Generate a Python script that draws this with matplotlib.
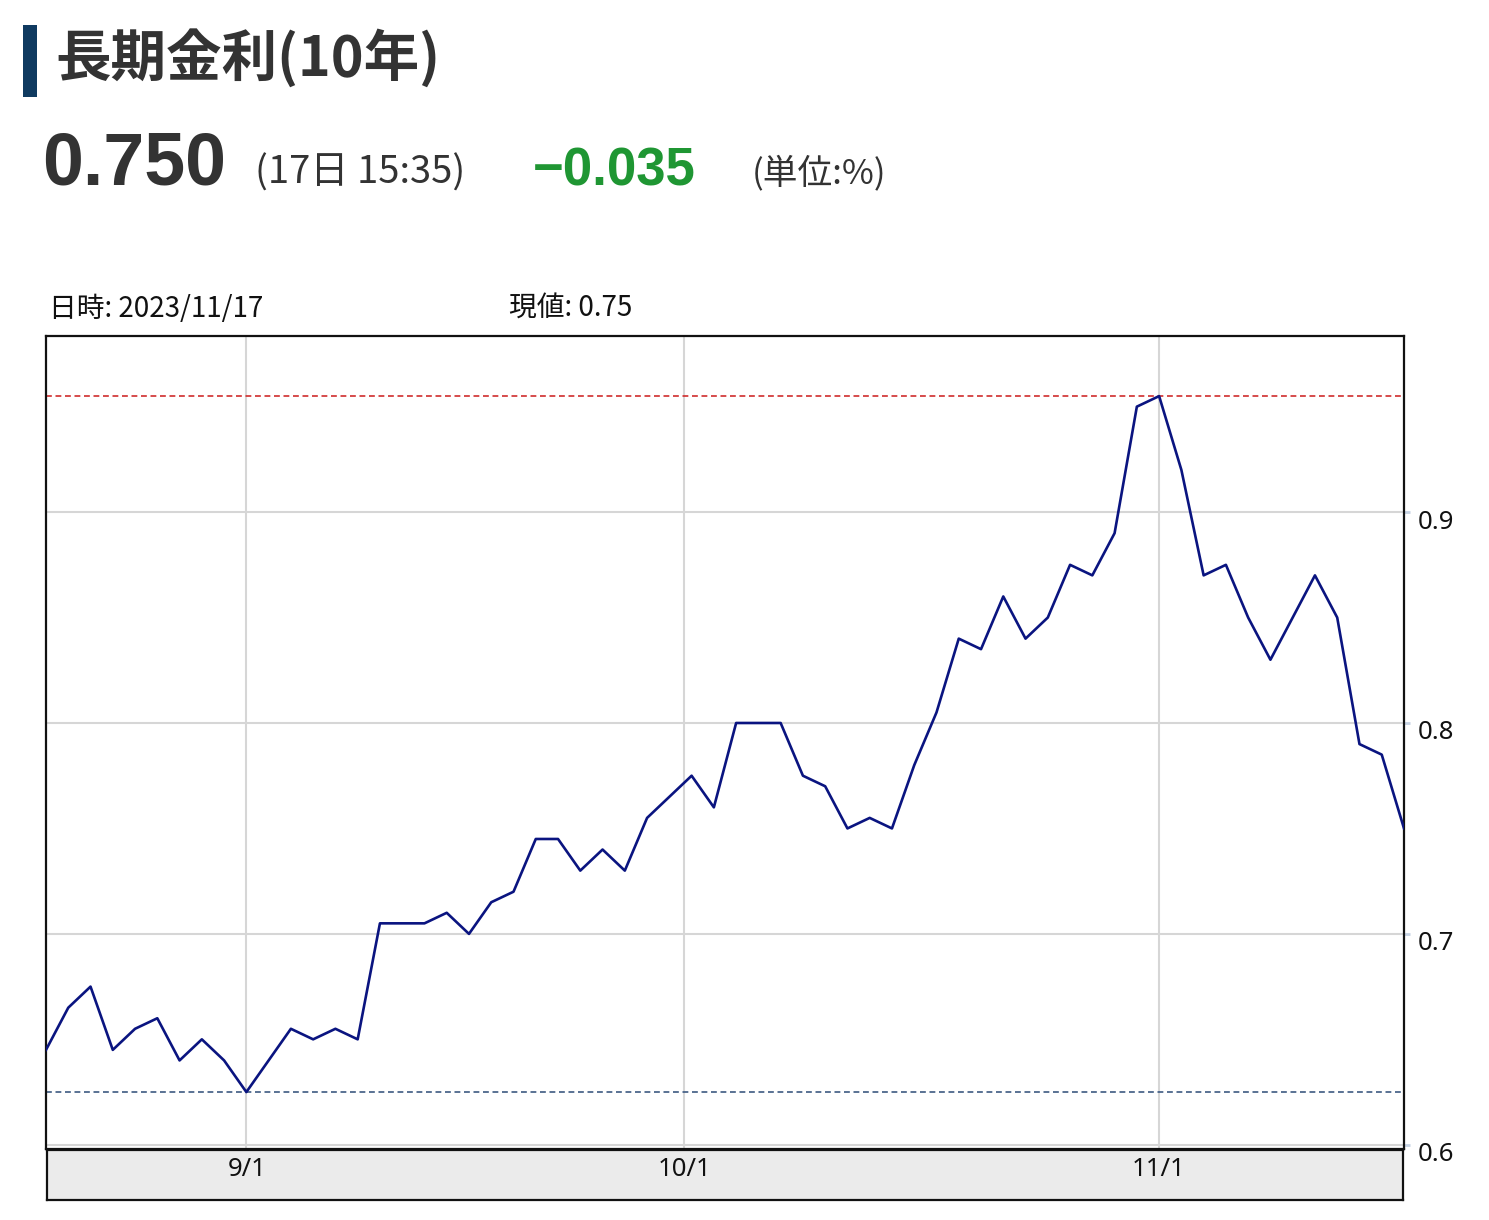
import matplotlib
matplotlib.use("Agg")
import matplotlib.pyplot as plt
import matplotlib.transforms as mtransforms
from matplotlib.patches import Rectangle
from datetime import date
import numpy as np

W, H = 1489, 1220
JP = ['Noto Sans CJK JP', 'DejaVu Sans']
LATIN = ['Liberation Sans', 'DejaVu Sans']
plt.rcParams['font.family'] = JP

# trading days (2023) and 10y JGB yield
dates = [
    "08/21", "08/22", "08/23", "08/24", "08/25", "08/28", "08/29", "08/30", "08/31",
    "09/01", "09/04", "09/05", "09/06", "09/07", "09/08", "09/11", "09/12", "09/13",
    "09/14", "09/15", "09/19", "09/20", "09/21", "09/22", "09/25", "09/26", "09/27",
    "09/28", "09/29",
    "10/02", "10/03", "10/04", "10/05", "10/06", "10/10", "10/11", "10/12", "10/13",
    "10/16", "10/17", "10/18", "10/19", "10/20", "10/23", "10/24", "10/25", "10/26",
    "10/27", "10/30", "10/31",
    "11/01", "11/02", "11/06", "11/07", "11/08", "11/09", "11/10", "11/13", "11/14",
    "11/15", "11/16", "11/17",
]
values = [
    0.645, 0.665, 0.675, 0.645, 0.655, 0.660, 0.640, 0.650, 0.640,
    0.625, 0.640, 0.655, 0.650, 0.655, 0.650, 0.705, 0.705, 0.705,
    0.710, 0.700, 0.715, 0.720, 0.745, 0.745, 0.730, 0.740, 0.730,
    0.755, 0.765,
    0.775, 0.760, 0.800, 0.800, 0.800, 0.775, 0.770, 0.750, 0.755,
    0.750, 0.780, 0.805, 0.840, 0.835, 0.860, 0.840, 0.850, 0.875,
    0.870, 0.890, 0.950,
    0.955, 0.920, 0.870, 0.875, 0.850, 0.830, 0.850, 0.870, 0.850,
    0.790, 0.785, 0.750,
]
month_ticks = ["09/01", "10/01", "11/01"]
month_labels = ["9/1", "10/1", "11/1"]
y_ticks = [0.6, 0.7, 0.8, 0.9]

title = "長期金利(10年)"
price = "0.750"
stamp = "(17日 15:35)"
change = "−0.035"
unit = "(単位:%)"
info_date = "日時: 2023/11/17"
info_value = "現値: 0.75"


def fx(x):
    return x / W


def fy(y):
    return 1 - y / H


def day_num(s):
    m, d = s.split("/")
    return date(2023, int(m), int(d)).toordinal()


fig = plt.figure(figsize=(W / 100, H / 100), dpi=100)

# header
fig.add_artist(Rectangle((fx(23), fy(97)), fx(14), 72 / H,
                         transform=fig.transFigure, color="#0f3a60", lw=0))
fig.text(fx(55), fy(58), title, fontsize=40, fontweight="bold",
         color="#333333", va="center", ha="left")
fig.text(fx(42), fy(165), price, fontsize=53, fontweight="bold",
         color="#333333", va="center", ha="left", family=LATIN)
fig.text(fx(255), fy(173), stamp, fontsize=27.5, color="#333333",
         va="center", ha="left")
fig.text(fx(533), fy(171), change, fontsize=38, fontweight="bold",
         color="#1f9633", va="center", ha="left", family=LATIN)
fig.text(fx(752), fy(173), unit, fontsize=25, color="#333333",
         va="center", ha="left")
fig.text(fx(49), fy(309), info_date, fontsize=20, color="#111111",
         va="center", ha="left")
fig.text(fx(509), fy(309), info_value, fontsize=20, color="#111111",
         va="center", ha="left")

# main chart
ax = fig.add_axes([fx(46), fy(1149), (1404 - 46) / W, (1149 - 336) / H])
xs = list(range(len(values)))
ax.plot(xs, values, color="#0a1480", lw=1.9, zorder=3)
ax.axhline(max(values), color="#d02c2c", lw=1.2, ls=(0, (3.5, 2.2)), zorder=2)
ax.axhline(min(values), color="#3d5a82", lw=1.2, ls=(0, (3.5, 2.2)), zorder=2)

# month gridlines fall at calendar position between trading days
tick_pos = np.interp([day_num(d) for d in month_ticks],
                     [day_num(d) for d in dates], xs)
ax.set_xlim(0, len(values) - 1)
ax.set_ylim(0.598, 0.9835)
ax.set_xticks(tick_pos)
ax.set_yticks(y_ticks)
ax.set_yticklabels([f"{v:.1f}" for v in y_ticks])
ax.grid(True, color="#d6d6d6", lw=1.5)
ax.set_axisbelow(True)
ax.tick_params(axis="x", length=0, labelbottom=False)
ax.tick_params(axis="y", left=False, right=True, labelleft=False, labelright=True,
               length=4, width=2, color="#c5d2e2", labelsize=18.5, pad=6,
               labelcolor="#111111")
offset = mtransforms.ScaledTranslation(0, -7 / 100, fig.dpi_scale_trans)
for lbl in ax.get_yticklabels():
    lbl.set_transform(lbl.get_transform() + offset)
    lbl.set_family(['Noto Sans', 'DejaVu Sans'])
for sp in ax.spines.values():
    sp.set_color("#111111")
    sp.set_linewidth(1.6)

# date band under the chart
band = fig.add_axes([fx(47), fy(1200), (1403 - 47) / W, 50 / H], sharex=ax)
band.set_facecolor("#ebebeb")
band.set_yticks([])
band.tick_params(axis="x", length=0, labelbottom=False)
for sp in band.spines.values():
    sp.set_color("#111111")
    sp.set_linewidth(1.6)
trans = mtransforms.blended_transform_factory(band.transData, band.transAxes)
for p, lab in zip(tick_pos, month_labels):
    band.text(p, 0.62, lab, transform=trans, ha="center", va="center",
              fontsize=18.5, color="#111111", family=['Noto Sans', 'DejaVu Sans'])

fig.savefig("out.png", dpi=100)
